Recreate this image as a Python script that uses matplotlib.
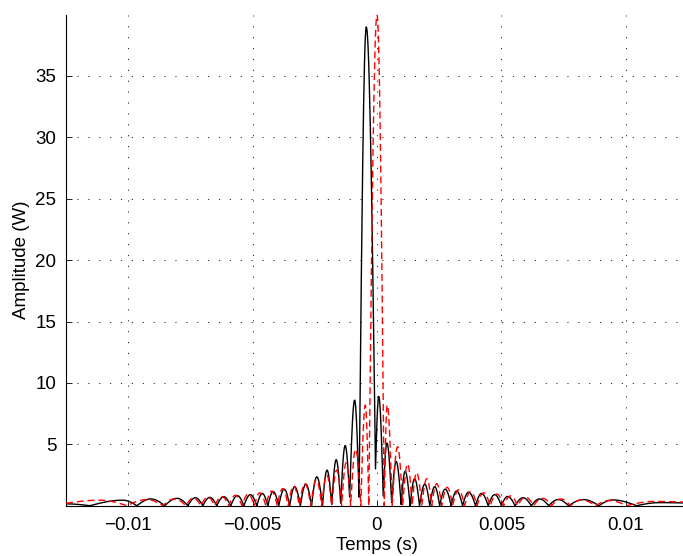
import numpy as np
import matplotlib
matplotlib.use("Agg")
import matplotlib.pyplot as plt

# lobe knots: time (ms) and amplitude (W),
# alternating peak / valley, left to right
black_t_ms = [-12.50, -11.54, -10.21, -9.65, -9.09, -8.53, -8.04, -7.60, -7.30, -7.00,
              -6.72, -6.44, -6.16, -5.88, -5.61, -5.35, -5.09, -4.83, -4.61, -4.39,
              -4.17, -3.95, -3.73, -3.51, -3.31, -3.08, -2.86, -2.63, -2.42, -2.19,
              -2.01, -1.82, -1.64, -1.46, -1.28, -1.10, -0.90, -0.72, -0.43, -0.06,
              0.07, 0.25, 0.40, 0.59, 0.77, 0.97, 1.13, 1.33, 1.51, 1.71,
              1.92, 2.12, 2.32, 2.52, 2.74, 2.98, 3.20, 3.44, 3.68, 3.96,
              4.20, 4.47, 4.73, 5.00, 5.25, 5.55, 5.87, 6.20, 6.53, 6.90,
              7.28, 7.70, 8.30, 8.92, 9.47, 10.43, 11.35, 12.50]
black_amp = [0.15, 0.0, 0.45, 0.0, 0.55, 0.0, 0.60, 0.0, 0.65, 0.0,
             0.68, 0.0, 0.73, 0.0, 0.82, 0.0, 0.90, 0.0, 1.00, 0.0,
             1.15, 0.0, 1.35, 0.0, 1.55, 0.0, 1.75, 0.0, 2.35, 0.0,
             2.90, 0.1, 3.75, 0.2, 4.90, 0.7, 8.60, 0.7, 39.0, 3.0,
             8.90, 0.8, 5.10, 0.25, 3.60, 0.1, 2.80, 0.0, 2.20, 0.0,
             1.75, 0.0, 1.55, 0.0, 1.35, 0.0, 1.20, 0.0, 1.10, 0.0,
             1.00, 0.0, 0.90, 0.0, 0.75, 0.0, 0.65, 0.0, 0.55, 0.0,
             0.50, 0.0, 0.50, 0.0, 0.47, 0.0, 0.25, 0.22]

red_t_ms = [-12.50, -11.14, -10.05, -9.25, -8.61, -8.14, -7.68, -7.38, -7.08, -6.80,
            -6.52, -6.24, -5.96, -5.69, -5.43, -5.17, -4.93, -4.71, -4.47, -4.23,
            -4.01, -3.79, -3.57, -3.35, -3.12, -2.90, -2.66, -2.44, -2.22, -2.02,
            -1.82, -1.62, -1.42, -1.24, -1.06, -0.86, -0.65, -0.47, -0.33, 0.00,
            0.29, 0.41, 0.61, 0.83, 1.03, 1.23, 1.41, 1.59, 1.80, 2.00,
            2.20, 2.40, 2.60, 2.82, 3.04, 3.28, 3.52, 3.76, 4.02, 4.29,
            4.55, 4.81, 5.09, 5.37, 5.65, 5.97, 6.29, 6.65, 7.02, 7.38,
            7.78, 8.22, 8.78, 9.35, 10.03, 11.15, 12.50]
red_amp = [0.20, 0.45, 0.0, 0.50, 0.0, 0.55, 0.0, 0.62, 0.0, 0.70,
           0.0, 0.75, 0.0, 0.85, 0.0, 0.95, 0.0, 1.05, 0.0, 1.20,
           0.0, 1.40, 0.0, 1.60, 0.0, 1.80, 0.0, 2.10, 0.0, 2.50,
           0.0, 2.90, 0.0, 3.50, 0.0, 4.60, 0.0, 8.20, 0.0, 40.0,
           0.0, 8.20, 0.0, 4.80, 0.0, 3.40, 0.0, 2.70, 0.0, 2.20,
           0.0, 1.80, 0.0, 1.50, 0.0, 1.30, 0.0, 1.15, 0.0, 1.05,
           0.0, 0.95, 0.0, 0.80, 0.0, 0.70, 0.0, 0.60, 0.0, 0.55,
           0.0, 0.47, 0.0, 0.42, 0.0, 0.35, 0.28]

x_ticks = [-0.01, -0.005, 0, 0.005, 0.01]
x_tick_labels = ['\u22120.01', '\u22120.005', '0', '0.005', '0.01']
y_ticks = [5, 10, 15, 20, 25, 30, 35]


def lobes(t_ms, amp, n=16):
	# round the lobes between the read knots: steep at valleys, flat at peaks
	xs, ys = [], []
	for i in range(len(t_ms) - 1):
		s = np.linspace(0, 1, n, endpoint=False)
		a0, a1 = amp[i], amp[i + 1]
		if a1 >= a0:
			y = a0 + (a1 - a0) * np.sin(np.pi / 2 * s)
		else:
			y = a1 + (a0 - a1) * np.cos(np.pi / 2 * s)
		xs.append(t_ms[i] + (t_ms[i + 1] - t_ms[i]) * s)
		ys.append(y)
	xs.append([t_ms[-1]])
	ys.append([amp[-1]])
	return np.concatenate(xs) / 1000.0, np.concatenate(ys)


plt.rcParams['font.family'] = ['Liberation Sans', 'DejaVu Sans']
fig = plt.figure(figsize=(6.83, 5.56), dpi=100)
ax = fig.add_axes([66 / 683, 50.3 / 556, 622 / 683, 491.1 / 556])

bx, by = lobes(black_t_ms, black_amp)
rx, ry = lobes(red_t_ms, red_amp)
ax.plot(bx, by, color='black', lw=1.0, zorder=3)
ax.plot(rx, ry, color='red', lw=1.0, dashes=(5, 2.8), zorder=3)

ax.set_xlim(-0.0125, 0.0125)
ax.set_ylim(0, 40)
ax.set_xticks(x_ticks)
ax.set_xticklabels(x_tick_labels)
ax.set_yticks(y_ticks)
ax.tick_params(direction='in', length=4, width=0.6, labelsize=13.5)
ax.tick_params(axis='x', pad=8)
ax.tick_params(axis='y', pad=7)
ax.grid(True, color='0.15', linestyle=(0, (1.2, 10)), linewidth=0.7)

for side in ['top', 'right']:
	ax.spines[side].set_visible(False)
for side in ['left', 'bottom']:
	ax.spines[side].set_linewidth(0.8)

ax.set_xlabel('Temps (s)', fontsize=13.5, labelpad=2)
ax.set_ylabel('Amplitude (W)', fontsize=13.5, labelpad=4)

fig.savefig('out.png', dpi=100)
